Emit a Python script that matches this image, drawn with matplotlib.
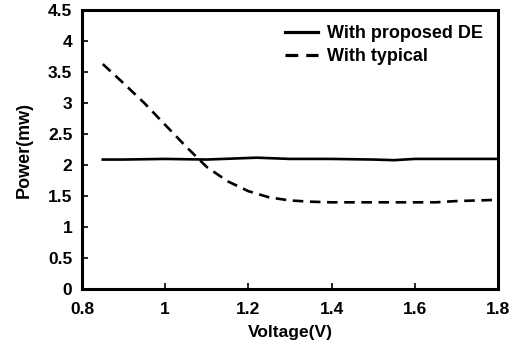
import numpy as np
import matplotlib.pyplot as plt

plt.rcParams['font.family'] = ['Liberation Sans', 'DejaVu Sans']
plt.rcParams['font.weight'] = 'bold'

# data
volt_de = [0.85, 0.9, 1.0, 1.1, 1.2, 1.22, 1.3, 1.4, 1.5, 1.55, 1.6, 1.7, 1.8]
power_de = [2.09, 2.09, 2.10, 2.09, 2.115, 2.12, 2.10, 2.10, 2.09, 2.08, 2.10, 2.10, 2.10]

volt_typ = [0.85, 0.9, 0.95, 1.0, 1.05, 1.1, 1.15, 1.2, 1.25, 1.3, 1.35, 1.4, 1.5, 1.6, 1.65, 1.7, 1.8]
power_typ = [3.63, 3.32, 3.0, 2.65, 2.3, 1.97, 1.74, 1.58, 1.48, 1.43, 1.41, 1.40, 1.40, 1.40, 1.40, 1.42, 1.44]

fig = plt.figure(figsize=(5.17, 3.5), dpi=100)
ax = fig.add_axes([0.1586, 0.174, 0.8044, 0.797])

ax.plot(volt_de, power_de, color='black', lw=1.9, label='With proposed DE')
ax.plot(volt_typ, power_typ, color='black', lw=1.9, ls=(0, (4, 2.5)), label='With typical')

ax.set_xlim(0.8, 1.8)
ax.set_ylim(0, 4.5)
ax.set_xticks(np.arange(0.8, 1.81, 0.2))
ax.set_xticklabels(['0.8', '1', '1.2', '1.4', '1.6', '1.8'])
ax.set_yticks(np.arange(0, 4.51, 0.5))
ax.set_yticklabels(['0', '0.5', '1', '1.5', '2', '2.5', '3', '3.5', '4', '4.5'])

for s in ax.spines.values():
    s.set_linewidth(2.2)
ax.tick_params(direction='in', length=4, width=1.2, labelsize=12.5)
ax.tick_params(axis='x', pad=9)
ax.tick_params(axis='y', pad=7)

ax.set_xlabel('Voltage(V)', fontsize=12.5, fontweight='bold', labelpad=6)
ax.set_ylabel('Power(mw)', fontsize=13, fontweight='bold', labelpad=11)

leg = ax.legend(loc='upper right', frameon=False, handlelength=1.85,
                handletextpad=0.45, labelspacing=0.3, borderaxespad=0.45,
                prop={'weight': 'bold', 'size': 13})
for h in leg.get_lines():
    h.set_linewidth(2.3)

fig.savefig('out.png', dpi=100)
